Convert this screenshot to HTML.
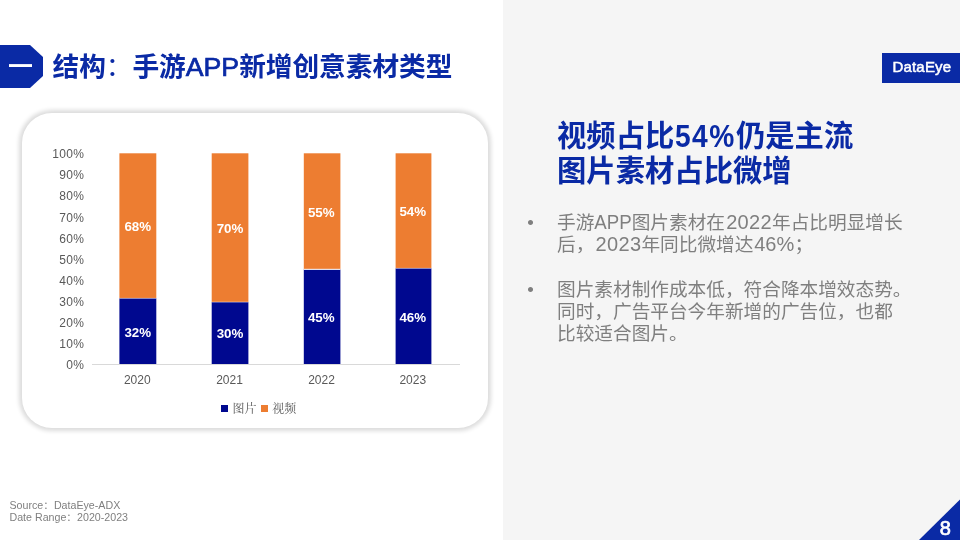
<!DOCTYPE html>
<html lang="zh-CN">
<head>
<meta charset="utf-8">
<title>结构：手游APP新增创意素材类型</title>
<style>
html,body{margin:0;padding:0;}
body{width:960px;height:540px;overflow:hidden;background:#fff;position:relative;font-family:"Liberation Sans","Noto Sans CJK SC",sans-serif;}
.abs{position:absolute;}
#right{left:503px;top:0;width:457px;height:540px;background:#f5f5f5;}
#badge{left:0;top:45px;width:43px;height:43px;}
#title{left:52.5px;top:47px;font-size:26.67px;font-weight:bold;color:#0a2aa5;white-space:nowrap;line-height:40px;height:40px;}
#card{left:22px;top:113px;width:466px;height:315px;border-radius:30px;background:#fff;box-shadow:0 0 4px 3px rgba(0,0,0,0.14);}
.ylab{right:875.8px;letter-spacing:0.3px;width:60px;text-align:right;font-size:12px;color:#595959;line-height:14px;height:14px;white-space:nowrap;}
.xlab{margin-left:-0.5px;width:60px;text-align:center;letter-spacing:0;font-size:12px;color:#595959;line-height:14px;height:14px;top:373px;}
.bar{width:37px;}
.o{background:#ed7d31;}
.b{background:#00088f;}
.dl{width:60px;text-align:center;font-size:13.33px;font-weight:bold;color:#fff;line-height:14px;height:14px;}
#axis{left:92px;top:364px;width:368px;height:1px;background:#d9d9d9;}
.leg{font-family:"Liberation Serif","Noto Serif CJK SC",serif;font-size:12px;color:#595959;line-height:14px;height:14px;top:402px;white-space:nowrap;}
.sq{width:7px;height:7px;top:404.7px;}
#logo{left:882px;top:52.5px;width:78px;height:30px;background:#0a2aa5;}
#logot{left:892.4px;top:51.8px;letter-spacing:0.2px;height:30px;line-height:30px;color:#fff;font-weight:normal;font-size:15px;-webkit-text-stroke:0.5px #fff;white-space:nowrap;}
#h1{left:557px;top:118px;font-size:29.33px;font-weight:bold;color:#0a2aa5;line-height:35px;white-space:nowrap;}
.body{left:557px;font-size:18.67px;color:#7f7f7f;line-height:22px;white-space:nowrap;}
.bul{left:527.3px;font-size:18.67px;color:#7f7f7f;line-height:22px;}
.foot{left:9.5px;font-size:10.67px;color:#7f7f7f;line-height:13px;height:13px;white-space:nowrap;}
#pn{left:935.2px;top:516px;width:20px;text-align:center;color:#fff;font-size:20px;font-weight:normal;-webkit-text-stroke:0.7px #fff;line-height:24px;}
.n{font-size:20px;line-height:0;letter-spacing:0.35px;margin-left:1.2px;}
.n2{font-size:20px;line-height:0;letter-spacing:0.1px;margin-left:0.8px;}
#title .lat{font-weight:normal;-webkit-text-stroke:0.7px #0a2aa5;letter-spacing:0;}
#h1 .big{display:inline-block;transform:translateY(1.4px) scale(0.96,1.1);transform-origin:0 80%;letter-spacing:1.5px;margin-left:0.6px;margin-right:-2.2px;}
.cap{display:inline-block;line-height:0;transform:scaleY(1.08);transform-origin:0 75%;}
</style>
</head>
<body>
<div id="right" class="abs"></div>

<svg id="badge" class="abs" width="43" height="43" viewBox="0 0 43 43"><polygon points="0,0 30,0 43,12 43,31 30,43 0,43" fill="#0a2aa5"/><rect x="9" y="19.1" width="23" height="2.9" fill="#fff"/></svg>
<div id="title" class="abs">结构<span style="font-weight:normal">：</span>手游<span class="lat">APP</span>新增创意素材类型</div>

<div id="card" class="abs"></div>

<div class="abs ylab" style="top:147.2px">100%</div>
<div class="abs ylab" style="top:168.3px">90%</div>
<div class="abs ylab" style="top:189.4px">80%</div>
<div class="abs ylab" style="top:210.5px">70%</div>
<div class="abs ylab" style="top:231.6px">60%</div>
<div class="abs ylab" style="top:252.7px">50%</div>
<div class="abs ylab" style="top:273.8px">40%</div>
<div class="abs ylab" style="top:294.9px">30%</div>
<div class="abs ylab" style="top:316.0px">20%</div>
<div class="abs ylab" style="top:337.1px">10%</div>
<div class="abs ylab" style="top:358.2px">0%</div>


<svg class="abs" style="left:0;top:0" width="503" height="540" viewBox="0 0 503 540">
<rect x="119.4" y="153.3" width="36.9" height="145.0" fill="#ed7d31"/>
<rect x="119.4" y="298.3" width="36.9" height="65.7" fill="#00088f"/>
<rect x="211.7" y="153.3" width="36.7" height="148.8" fill="#ed7d31"/>
<rect x="211.7" y="302.1" width="36.7" height="61.9" fill="#00088f"/>
<rect x="303.8" y="153.3" width="36.6" height="116.1" fill="#ed7d31"/>
<rect x="303.8" y="269.4" width="36.6" height="94.6" fill="#00088f"/>
<rect x="395.6" y="153.3" width="35.8" height="115.0" fill="#ed7d31"/>
<rect x="395.6" y="268.3" width="35.8" height="95.7" fill="#00088f"/>
<rect x="119.4" y="297.9" width="36.9" height="0.7" fill="#fff" opacity="0.6"/>
<rect x="211.7" y="301.7" width="36.7" height="0.7" fill="#fff" opacity="0.6"/>
<rect x="303.8" y="268.8" width="36.6" height="1.1" fill="#fff" opacity="0.9"/>
<rect x="395.6" y="267.9" width="35.8" height="0.7" fill="#fff" opacity="0.6"/>
<rect x="92" y="364" width="368" height="0.8" fill="#d0d0d0"/>
</svg>

<div class="abs dl" style="left:107.8px;top:219.5px">68%</div>
<div class="abs dl" style="left:200px;top:221.5px">70%</div>
<div class="abs dl" style="left:291.3px;top:205.5px">55%</div>
<div class="abs dl" style="left:382.8px;top:204.5px">54%</div>
<div class="abs dl" style="left:107.8px;top:326px">32%</div>
<div class="abs dl" style="left:200px;top:327px">30%</div>
<div class="abs dl" style="left:291.3px;top:311px">45%</div>
<div class="abs dl" style="left:382.8px;top:311px">46%</div>

<div class="abs xlab" style="left:107.8px">2020</div>
<div class="abs xlab" style="left:200px">2021</div>
<div class="abs xlab" style="left:292px">2022</div>
<div class="abs xlab" style="left:383.3px">2023</div>

<div class="abs sq b" style="left:221px"></div>
<div class="abs leg" style="left:232.6px">图片</div>
<div class="abs sq o" style="left:261.2px"></div>
<div class="abs leg" style="left:272.3px">视频</div>

<div id="logo" class="abs"></div>
<div id="logot" class="abs">DataEye</div>

<div id="h1" class="abs">视频占比<span class="big">54%</span>仍是主流<br>图片素材占比微增</div>

<div class="abs bul" style="top:211.7px">•</div>
<div class="abs body" style="top:211.7px">手游<span class="cap">APP</span>图片素材在<span class="n">2022</span>年占比明显增长<br>后，<span class="n">2023</span>年同比微增达<span class="n2">46%</span>；</div>
<div class="abs bul" style="top:278.7px">•</div>
<div class="abs body" style="top:278.7px">图片素材制作成本低，符合降本增效态势。<br>同时，广告平台今年新增的广告位，也都<br>比较适合图片。</div>

<div class="abs foot" style="top:498.5px">Source：DataEye-ADX</div>
<div class="abs foot" style="top:511px">Date Range：2020-2023</div>

<svg class="abs" style="left:918px;top:499px" width="42" height="41" viewBox="0 0 42 41"><polygon points="42,0.5 42,41 1,41" fill="#0a2aa5"/></svg>
<div id="pn" class="abs">8</div>
</body>
</html>
